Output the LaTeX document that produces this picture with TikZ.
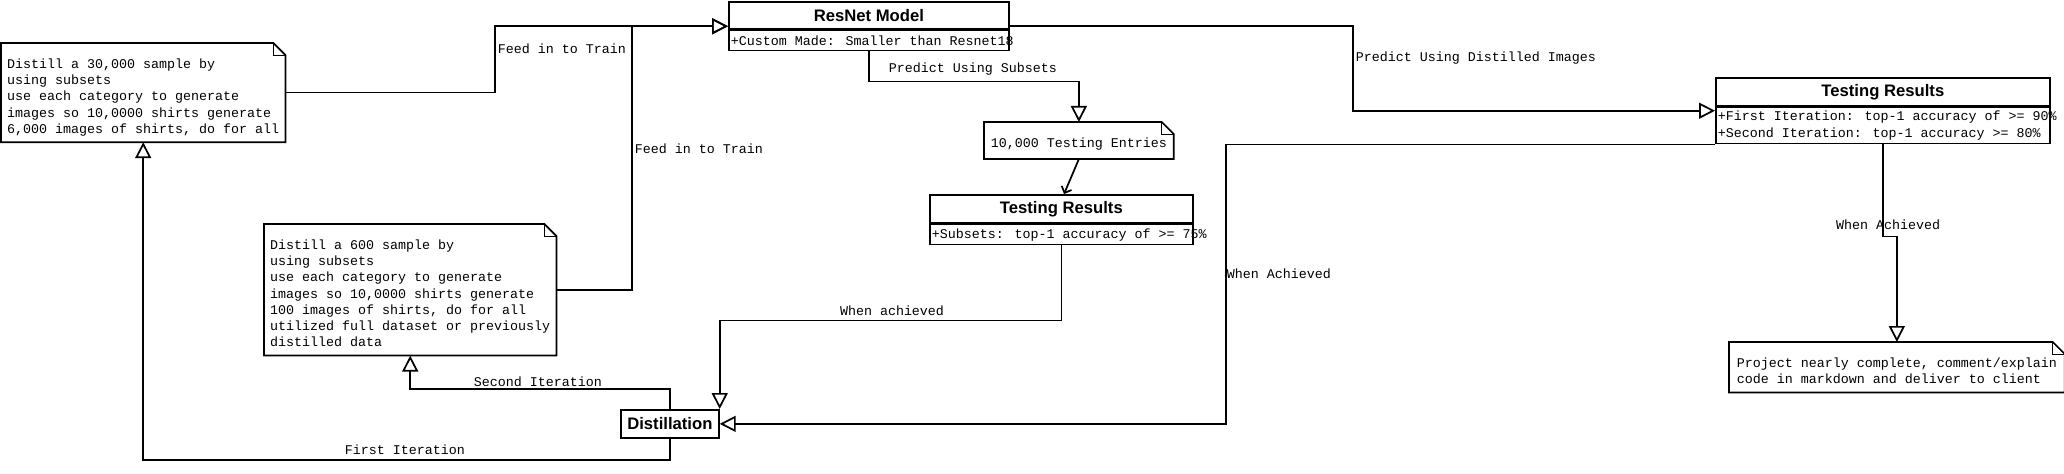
\documentclass[tikz,border=0pt]{standalone}
\usepackage{fontspec}
\setmainfont{Liberation Sans}
\newfontfamily\monofont{Liberation Mono}
\usetikzlibrary{arrows.meta,calc}

\newcommand{\notetext}{\monofont\fontsize{10}{12.15}\selectfont}
\newcommand{\attrtext}{\monofont\fontsize{10}{12.75}\selectfont}
\newcommand{\headtext}{\fontsize{12.5}{15}\selectfont\bfseries}
\newcommand{\notetop}{\rule{0pt}{18.5pt}}
\newcommand{\notebot}{\rule[-6pt]{0pt}{0pt}}
% outline of a note with its folded corner
\newcommand{\notefold}[1]{%
  \draw (#1.south west) -- (#1.north west) -- ([xshift=-9pt]#1.north east)
    -- ([yshift=-9pt]#1.north east) -- (#1.south east) -- cycle;
  \draw[line width=.6pt] ([xshift=-9pt]#1.north east) -- ([xshift=-9pt,yshift=-9pt]#1.north east)
    -- ([yshift=-9pt]#1.north east);}

\begin{document}
\begin{tikzpicture}[x=0.75pt, y=-0.75pt, line width=1.3pt,
  notebox/.style={align=left, inner xsep=4pt, inner ysep=0pt, anchor=north west, font=\notetext},
  headbox/.style={draw, inner sep=0pt, anchor=north west, minimum height=20.25pt, font=\headtext},
  attrbox/.style={draw, align=left, inner xsep=1.5pt, inner ysep=0pt, anchor=north west, minimum height=15pt, font=\attrtext},
  lbl/.style={inner sep=0pt, font=\notetext},
  opentri/.style={-{Triangle[open, length=12pt, width=12pt]}},
  openv/.style={-{Straight Barb[length=4pt, width=8pt]}}]

\useasboundingbox (0,0) rectangle (2064,474);

% notes
\node[notebox, minimum width=212pt] (distill30) at (1,43) {\notetop Distill a 30,000 sample by\\using subsets\\use each category to generate\\images so 10,0000 shirts generate\\6,000 images of shirts, do for all\notebot};
\node[notebox, minimum width=218pt] (distill600) at (264,224) {\notetop Distill a 600 sample by\\using subsets\\use each category to generate\\images so 10,0000 shirts generate\\100 images of shirts, do for all\\utilized full dataset or previously\\distilled data\notebot};
\node[notebox, minimum width=141pt] (testentries) at (984,122) {\notetop 10,000 Testing Entries\rule[-8pt]{0pt}{0pt}};
\node[notebox, minimum width=250.5pt] (projnote) at (1729,342) {\notetop Project nearly complete, comment/explain\\code in markdown and deliver to client\notebot};
\notefold{distill30}
\notefold{distill600}
\notefold{testentries}
\notefold{projnote}

% classes
\node[headbox, minimum width=210pt] (resnet) at (728,1) {ResNet Model};
\node[attrbox] (resnetattr) at (resnet.south west) {\makebox[207pt][l]{+Custom Made: Smaller than Resnet18}};
\node[headbox, minimum width=197.25pt, minimum height=21pt] (subres) at (929,194) {Testing Results};
\node[attrbox] (subresattr) at (subres.south west) {\makebox[194.25pt][l]{+Subsets: top-1 accuracy of >= 75\%}};
\node[headbox, minimum width=250.5pt, minimum height=21pt] (distres) at (1715,77) {Testing Results};
\node[attrbox, minimum height=27pt] (distresattr) at (distres.south west) {\makebox[247.5pt][l]{+First Iteration: top-1 accuracy of >= 90\%}\\\makebox[247.5pt][l]{+Second Iteration: top-1 accuracy >= 80\%}};
\node[headbox, minimum width=73.5pt, minimum height=21pt] (distil) at (620,409) {Distillation};
\coordinate (resnetw) at ($(resnet.north west)!.5!(resnetattr.south west)$);
\coordinate (resnete) at ($(resnet.north east)!.5!(resnetattr.south east)$);
\coordinate (distresw) at ($(distres.north west)!.5!(distresattr.south west)$);

% labels
\node[lbl, anchor=west] (feedone) at (497,49) {Feed in to Train};
\node[lbl, anchor=west] (feedtwo) at (634,149) {Feed in to Train};
\node[lbl] (predsub) at (973,69) {Predict Using Subsets};
\node[lbl, anchor=west] (preddist) at (1355,58) {Predict Using Distilled Images};
\node[lbl] (achsub) at (892,311) {When achieved};
\node[lbl, anchor=west] (achdist) at (1226,274) {When Achieved};
\node[lbl] (achproj) at (1888,225) {When Achieved};
\node[lbl] (second) at (538,382) {Second Iteration};
\node[lbl] (first) at (405,450) {First Iteration};

\draw[opentri] (distill30.east) -| ([xshift=-174.75pt]resnetw) -- (resnetw);
\draw[opentri] (distill600.east) -| ([xshift=-72pt]resnetw) -- (resnetw);
\draw[opentri] (resnete) -| ([xshift=-271.5pt]distresw) -- (distresw);
\draw[opentri] (resnetattr.south) -- ++(0,30) -| (testentries.north);
\draw[openv] (testentries.south) -- ([xshift=2pt]subres.north);
\draw[opentri] (subresattr.south) -- ++(0,75) -| (distil.north east);
\draw[opentri] (distresattr.south west) -| ([xshift=379.5pt]distil.east) -- (distil.east);
\draw[opentri] (distresattr.south) -- ++(0,92) -| (projnote.north);
\draw[opentri] (distil.north) -- ++(0,-20) -| (distill600.south);
\draw[opentri] (distil.south) -- ++(0,21) -| (distill30.south);
\end{tikzpicture}
\end{document}
